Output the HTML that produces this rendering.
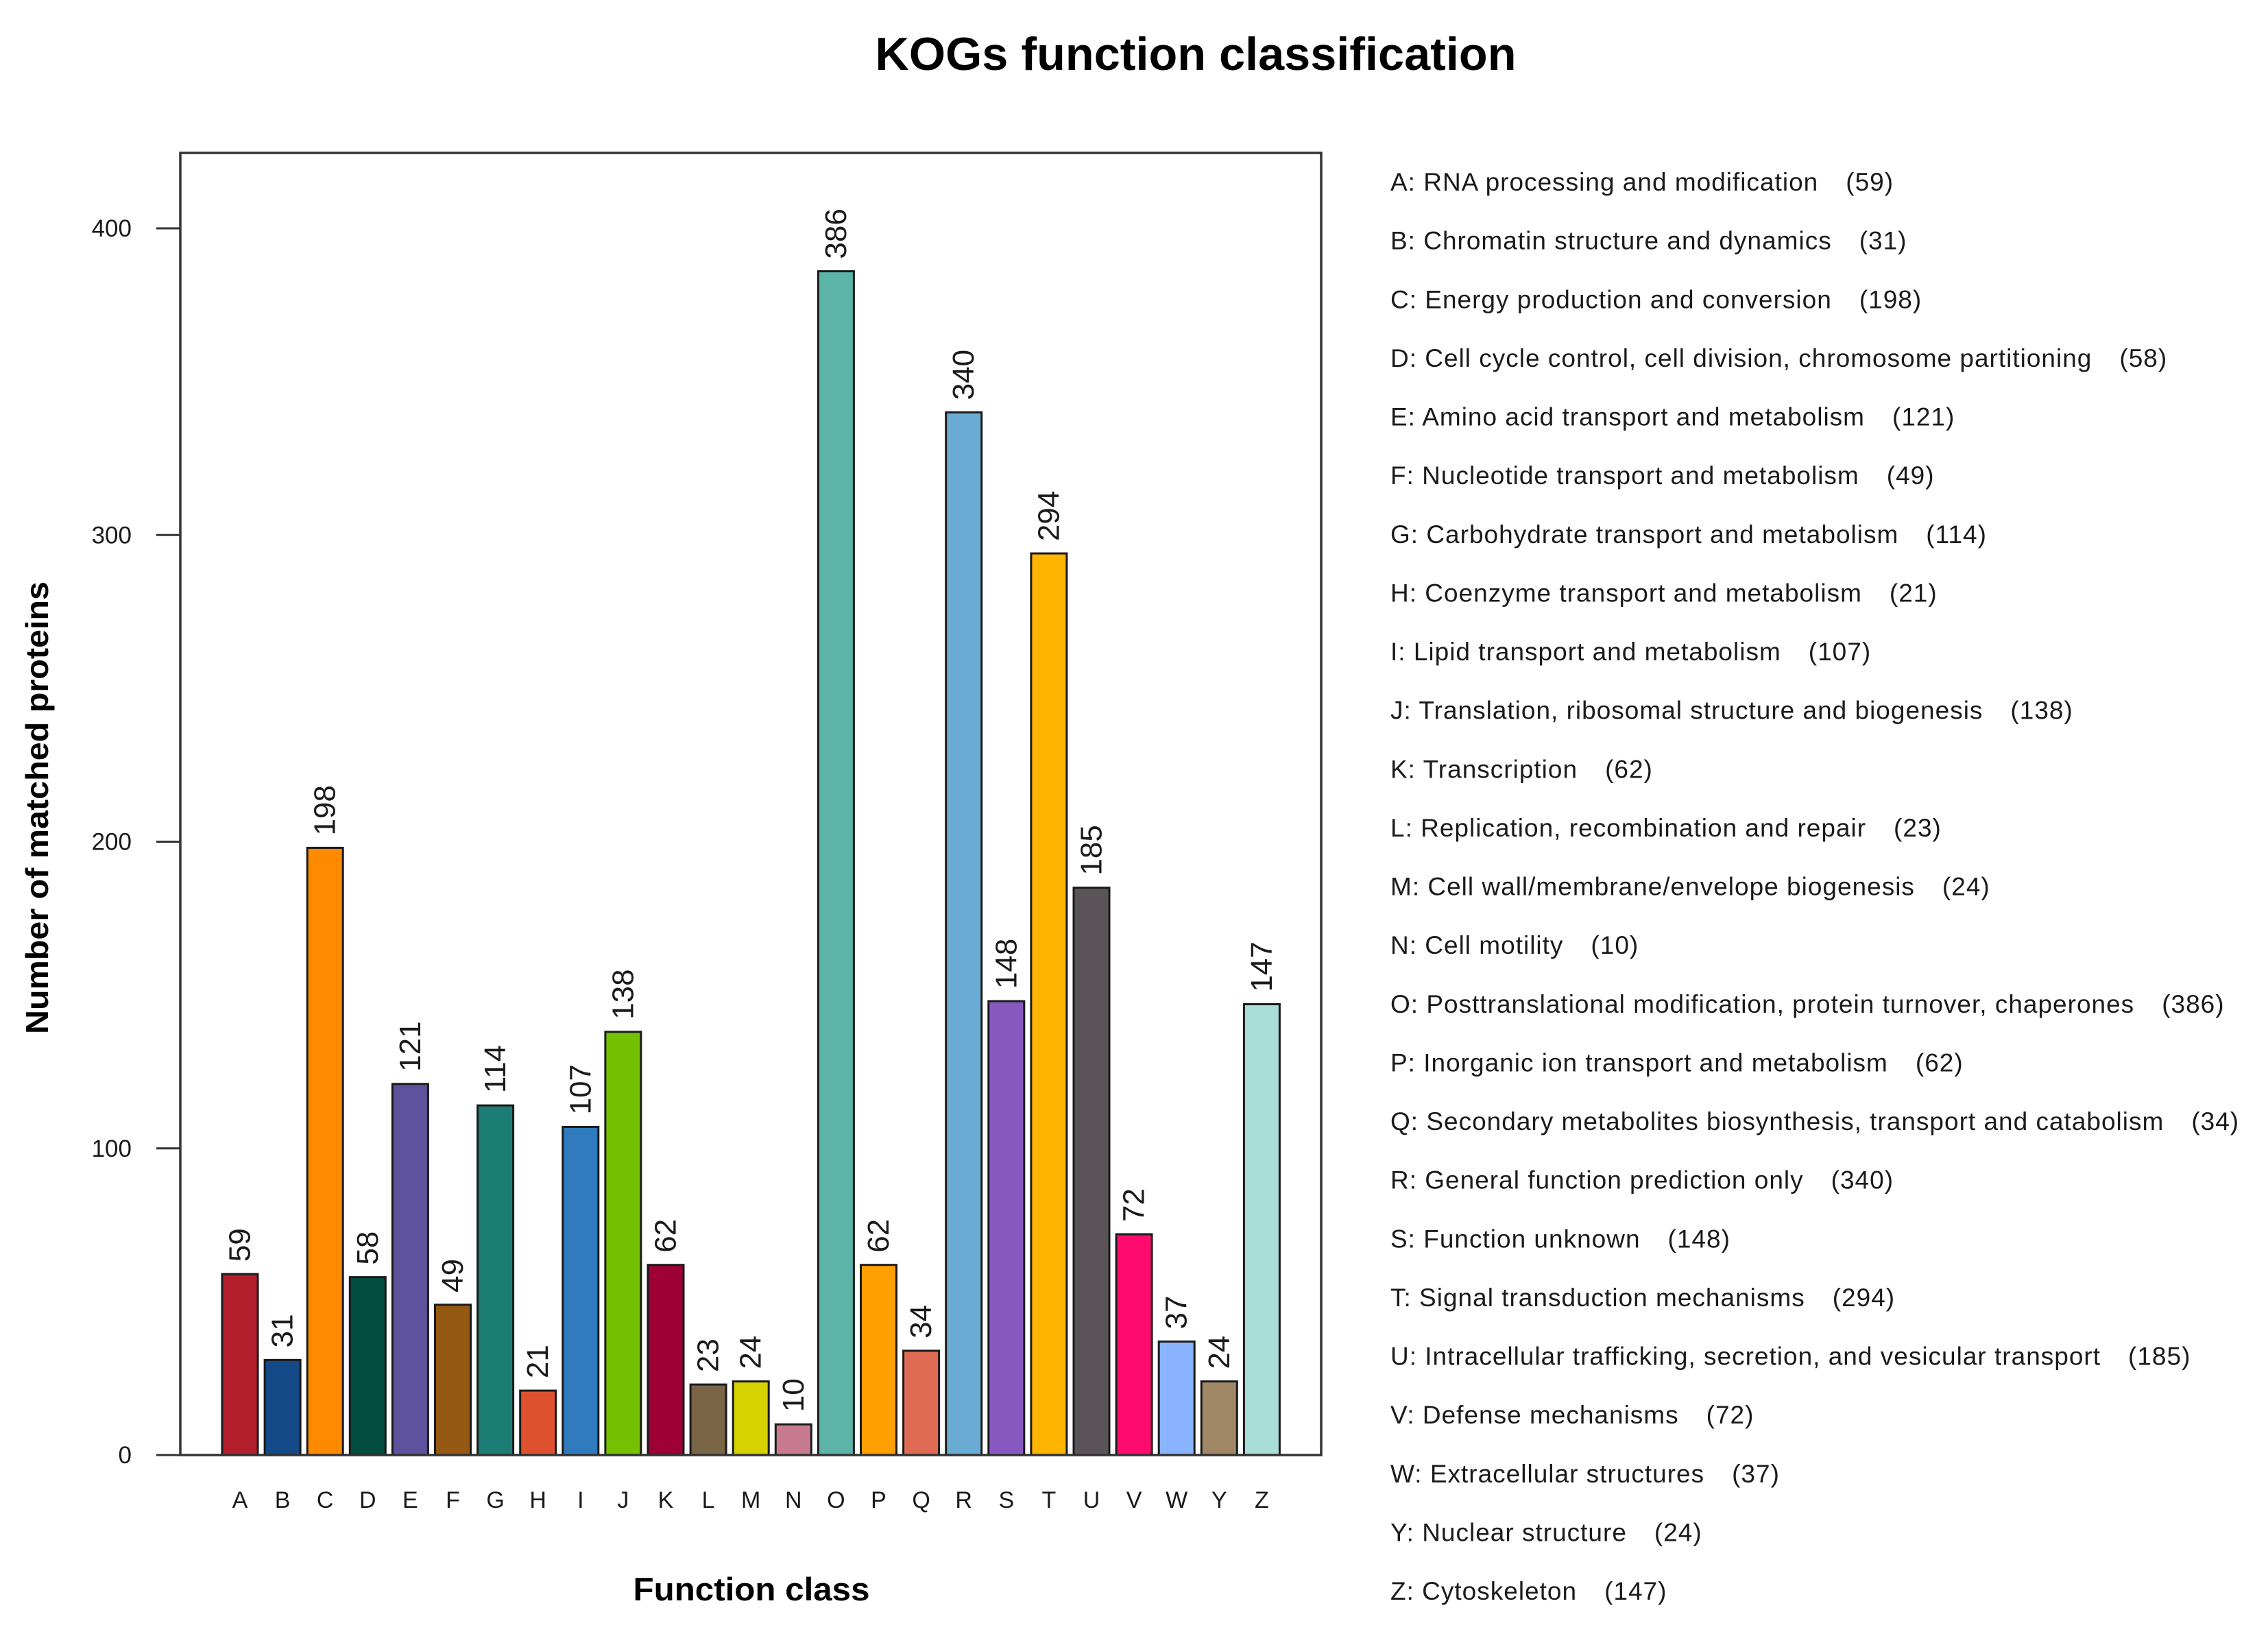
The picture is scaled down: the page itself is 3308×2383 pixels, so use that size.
<!DOCTYPE html>
<html>
<head>
<meta charset="utf-8">
<style>
  html,body{margin:0;padding:0;background:#fff;}
  svg{display:block;}
  text{font-family:"Liberation Sans",Arial,sans-serif;fill:#1a1a1a;}
</style>
</head>
<body>
<svg id="chart" width="3308" height="2383" viewBox="0 0 3308 2383" xmlns="http://www.w3.org/2000/svg">
  <rect x="0" y="0" width="3308" height="2383" fill="#fff"/>
  <text x="1744" y="102" text-anchor="middle" font-size="68" font-weight="bold" textLength="935" lengthAdjust="spacingAndGlyphs" style="fill:#000">KOGs function classification</text>
  <text transform="translate(70,1178) rotate(-90)" text-anchor="middle" font-size="46" font-weight="bold" textLength="660" lengthAdjust="spacingAndGlyphs" style="fill:#000">Number of matched proteins</text>
  <text x="1096" y="2334" text-anchor="middle" font-size="47" font-weight="bold" textLength="345" lengthAdjust="spacingAndGlyphs" style="fill:#000">Function class</text>
  <g id="bars"></g>
  <g id="yaxis"></g>
  <g id="xaxis"></g>
  <g id="legend"></g>
  <rect x="263" y="223" width="1664" height="1899" fill="none" stroke="#333" stroke-width="3.5"/>
</svg>
<script>
const categories = ["A","B","C","D","E","F","G","H","I","J","K","L","M","N","O","P","Q","R","S","T","U","V","W","Y","Z"];
const values = [59,31,198,58,121,49,114,21,107,138,62,23,24,10,386,62,34,340,148,294,185,72,37,24,147];
const descriptions = [
 "RNA processing and modification",
 "Chromatin structure and dynamics",
 "Energy production and conversion",
 "Cell cycle control, cell division, chromosome partitioning",
 "Amino acid transport and metabolism",
 "Nucleotide transport and metabolism",
 "Carbohydrate transport and metabolism",
 "Coenzyme transport and metabolism",
 "Lipid transport and metabolism",
 "Translation, ribosomal structure and biogenesis",
 "Transcription",
 "Replication, recombination and repair",
 "Cell wall/membrane/envelope biogenesis",
 "Cell motility",
 "Posttranslational modification, protein turnover, chaperones",
 "Inorganic ion transport and metabolism",
 "Secondary metabolites biosynthesis, transport and catabolism",
 "General function prediction only",
 "Function unknown",
 "Signal transduction mechanisms",
 "Intracellular trafficking, secretion, and vesicular transport",
 "Defense mechanisms",
 "Extracellular structures",
 "Nuclear structure",
 "Cytoskeleton"
];
const colors = ["#b5202e","#144a87","#ff8a00","#024d40","#5f529c","#955913","#1b7d74","#e0522f","#2f7bbd","#73c100","#9e0036","#7a6547","#d6d200","#c87a93","#5cb4a9","#ff9f00","#e06b55","#6aabd3","#8759c0","#ffb400","#5a5458","#ff0a6e","#8ab4ff","#a08766","#a8ded6"];
const yTicks = [0,100,200,300,400];

const NS = "http://www.w3.org/2000/svg";
const plotL = 263, plotR = 1927, plotT = 223, plotB = 2122;
const yMax = (plotB - plotT) / ((plotB - 333) / 400);
function yScale(v){ return plotB - v / yMax * (plotB - plotT); }
const pitch = 62.1;
const barW = 52;
function xLeft(i){ return 324 + i * pitch; }

const bars = document.getElementById('bars');
categories.forEach((c, i) => {
  const x = xLeft(i), y = yScale(values[i]);
  const r = document.createElementNS(NS, 'rect');
  
  
  r.setAttribute('x', x); r.setAttribute('y', y);
  r.setAttribute('width', barW); r.setAttribute('height', plotB - y);
  r.setAttribute('fill', colors[i]); r.setAttribute('stroke', '#1a1a1a'); r.setAttribute('stroke-width', '3');
  bars.appendChild(r);
  const t = document.createElementNS(NS, 'text');
  
  
  const cx = x + barW / 2, ly = y - 18;
  t.setAttribute('transform', 'translate(' + cx + ',' + ly + ') rotate(-90)');
  t.setAttribute('font-size', '44');
  t.setAttribute('dominant-baseline', 'central');
  t.textContent = values[i];
  bars.appendChild(t);
  const xl = document.createElementNS(NS, 'text');
  
  
  xl.setAttribute('x', cx); xl.setAttribute('y', 2199);
  xl.setAttribute('text-anchor', 'middle'); xl.setAttribute('font-size', '34');
  xl.textContent = c;
  document.getElementById('xaxis').appendChild(xl);
});

const ya = document.getElementById('yaxis');
yTicks.forEach(v => {
  const y = yScale(v);
  const l = document.createElementNS(NS, 'line');
  
  
  l.setAttribute('x1', 228); l.setAttribute('x2', plotL);
  l.setAttribute('y1', y); l.setAttribute('y2', y);
  l.setAttribute('stroke', '#333'); l.setAttribute('stroke-width', '3');
  ya.appendChild(l);
  const t = document.createElementNS(NS, 'text');
  
  
  t.setAttribute('x', 192); t.setAttribute('y', y + 12);
  t.setAttribute('text-anchor', 'end'); t.setAttribute('font-size', '35');
  t.textContent = v;
  ya.appendChild(t);
});

const lg = document.getElementById('legend');
const legTop = 278, legBot = 2333, legStep = (legBot - legTop) / (categories.length - 1);
categories.forEach((c, i) => {
  const y = legTop + i * legStep;
  const t = document.createElementNS(NS, 'text');
  
  
  t.setAttribute('x', 2028); t.setAttribute('y', y);
  t.setAttribute('font-size', '37');
  t.setAttribute('letter-spacing', '1');
  t.textContent = c + ': ' + descriptions[i];
  lg.appendChild(t);
  let w = 0;
  try { w = t.getComputedTextLength(); } catch(e) { w = t.textContent.length * 18.5; }
  const n = document.createElementNS(NS, 'text');
  
  
  n.setAttribute('x', 2028 + w + 40); n.setAttribute('y', y);
  n.setAttribute('font-size', '37');
  n.setAttribute('letter-spacing', '1');
  n.textContent = '(' + values[i] + ')';
  lg.appendChild(n);
});
</script>
</body>
</html>
